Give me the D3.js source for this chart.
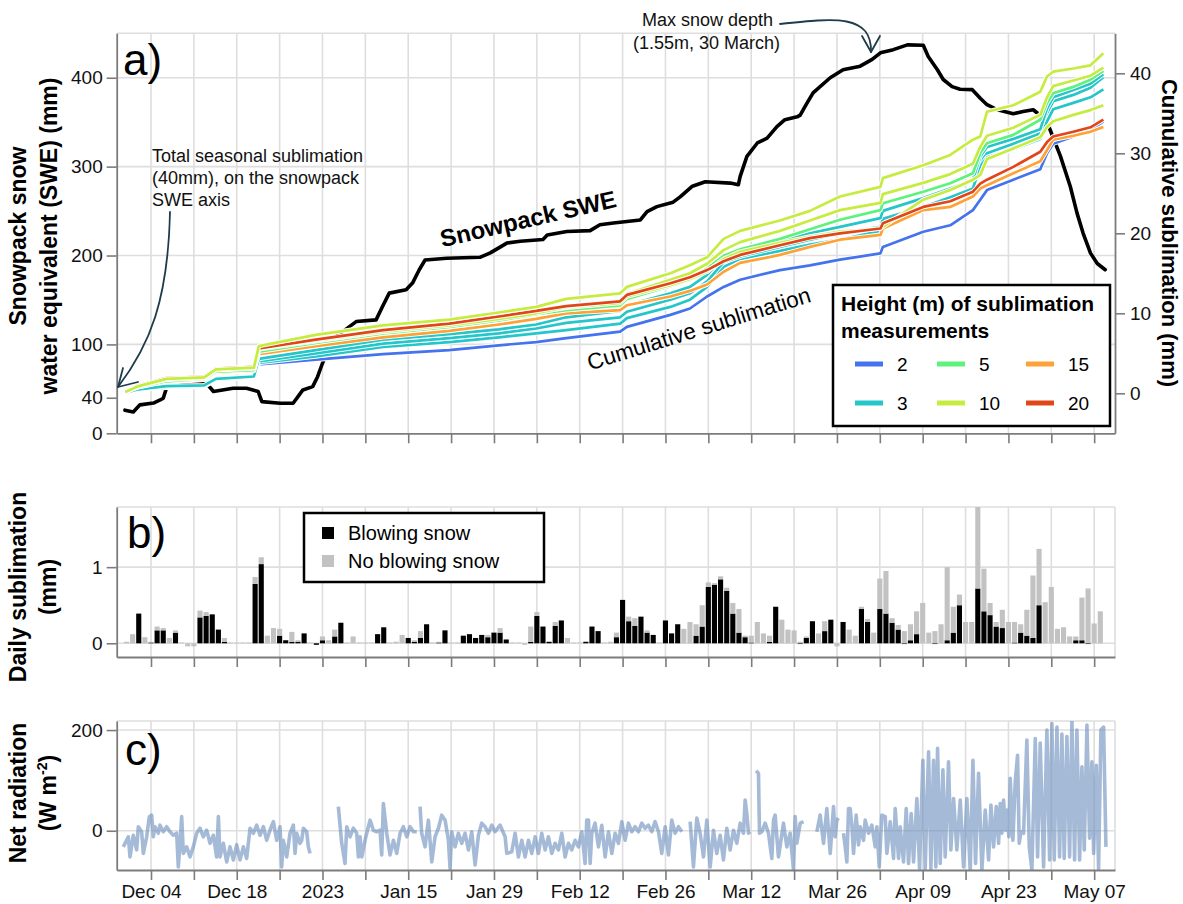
<!DOCTYPE html>
<html>
<head>
<meta charset="utf-8">
<title>Snowpack SWE, sublimation and net radiation</title>
<script src="https://cdn.jsdelivr.net/npm/d3@7"></script>
<style>
  html, body { margin: 0; padding: 0; background: #fff; }
  svg { display: block; font-family: "Liberation Sans", Arial, Helvetica, sans-serif; }
</style>
</head>
<body>
<svg id="chart" width="1183" height="904"></svg>
<script>
// ---------------------------------------------------------------------------
// Data. Time is expressed as days since 4 Dec 2022 00:00 UTC.
// ---------------------------------------------------------------------------
const seasonStart = Date.UTC(2022, 11, 4);

// Snowpack snow water equivalent (mm): [day, SWE]
const swe = [
  [-4.25, 26], [-2.9, 24], [-1.8, 32], [0.4, 34], [1.5, 37.5], [2.0, 39.5], [2.6, 52.5],
  [9.1, 56], [10.2, 47], [13.4, 50.7], [15.6, 50.7], [17.5, 47], [18.1, 35.6], [21.1, 33.8],
  [23.2, 33.8], [24.0, 41.2], [24.8, 48.8], [26.4, 52.5], [27.2, 63.7], [28.0, 78.8],
  [29.1, 97.5], [30.2, 108.8], [32.4, 120], [33.5, 125.7], [36.75, 127.6], [37.8, 142.6],
  [38.9, 157.7], [41.65, 161.4], [42.7, 169], [43.8, 184], [44.75, 195], [48.3, 197],
  [53.7, 198], [55.4, 203], [58.1, 214], [60.3, 216], [64.0, 218], [64.7, 223], [67.9, 227],
  [71.7, 228], [73.3, 234.6], [75.5, 236.5], [79.9, 240], [81.0, 249.5], [82.6, 255],
  [85.25, 260], [86.4, 266], [88.4, 278], [90.5, 283], [94.6, 281.5], [95.9, 279.6],
  [96.2, 289], [97.3, 311.5], [99.0, 326.6], [100.6, 332], [102.2, 345], [103.5, 352.8],
  [105.5, 356], [106.0, 358], [106.8, 367.8], [108.1, 383], [110.9, 400], [113.0, 409],
  [115.8, 413], [117.75, 420.6], [119.1, 428], [121.2, 431.6], [123.5, 437], [126.1, 436.5],
  [126.9, 424], [128.4, 409], [129.35, 398], [130.8, 390], [132.1, 387], [134.1, 386.6],
  [135.4, 377], [136.5, 369.7], [138.2, 364], [140.8, 359.6], [142.4, 362], [144.05, 364],
  [145.7, 354.7], [146.8, 341.5], [148.5, 311.5], [150.1, 277.7], [151.2, 247.7],
  [152.2, 225], [153.4, 202.7], [154.5, 191], [155.8, 184]
];

// Cumulative sublimation (mm) for each sensor, sampled on shared days
const subDays = [-4.1, -2.0, 2.5, 8.7, 10.6, 16.8, 17.6, 26.9, 37.9, 48.7, 56.8, 62.9, 67.8,
  76.6, 77.7, 84.8, 88.0, 90.8, 93.5, 96.2, 102.7, 107.6, 112.5, 119.1, 119.5, 126.1, 130.5,
  134.2, 135.4, 136.5, 140.8, 145.2, 146.3, 147.3, 150.6, 153.4, 155.5];

const sub2m = [0.1, 0.5, 0.75, 0.85, 1.7, 2.0, 3.6, 4.2, 4.9, 5.4, 6.0, 6.4, 6.9, 7.7, 8.3,
  9.8, 10.6, 12.1, 13.3, 14.2, 15.4, 16.0, 16.7, 17.5, 18.3, 20.2, 21.0, 22.9, 24.2, 25.4,
  26.7, 28.0, 30.0, 31.2, 32.1, 32.9, 34.0];
const sub3mA = [0.1, 0.5, 0.9, 1.0, 1.8, 2.1, 4.3, 5.4, 6.7, 7.4, 8.0, 8.6, 9.5, 10.3, 11.0,
  12.5, 13.3, 14.8, 17.0, 17.9, 19.0, 20.0, 20.8, 21.9, 22.8, 24.4, 25.6, 26.7, 29.6, 30.8,
  31.8, 33.0, 35.6, 37.0, 37.9, 38.7, 39.9];
const sub3mB = [0.1, 0.5, 0.8, 0.95, 1.75, 2.05, 4.0, 5.0, 6.2, 6.9, 7.5, 8.1, 8.8, 9.5, 10.2,
  11.7, 12.5, 14.0, 16.4, 17.1, 18.3, 19.2, 20.0, 20.8, 21.8, 23.3, 24.5, 25.6, 28.4, 29.5,
  30.5, 31.8, 34.0, 35.5, 36.3, 37.0, 38.0];
const sub3mC = [0.1, 0.5, 0.7, 0.9, 1.7, 2.0, 3.8, 4.6, 5.8, 6.4, 7.0, 7.5, 7.9, 8.7, 9.4,
  10.8, 11.7, 13.3, 15.8, 16.8, 17.8, 18.6, 19.2, 20.3, 21.2, 23.0, 24.2, 25.4, 28.8, 30.0,
  31.2, 32.5, 35.0, 36.5, 37.3, 38.2, 39.5];
const sub5m = [0.2, 0.8, 1.5, 1.8, 2.7, 2.9, 5.2, 6.3, 7.5, 8.3, 9.1, 9.9, 10.4, 11.0, 11.8,
  13.4, 14.2, 15.6, 17.2, 18.0, 19.3, 20.5, 21.7, 22.9, 23.75, 25.2, 26.25, 27.5, 30.0, 31.25,
  32.3, 34.2, 36.3, 37.5, 38.3, 39.2, 40.3];
const sub10mA = [0.2, 0.9, 1.8, 2.0, 3.0, 3.2, 5.9, 7.3, 8.5, 9.2, 10.1, 10.8, 11.8, 12.5, 13.3,
  15.0, 16.0, 17.0, 19.3, 20.3, 21.6, 22.8, 24.6, 25.8, 26.9, 28.5, 29.8, 31.7, 32.1, 35.2,
  36.0, 37.7, 39.6, 40.2, 40.6, 41.0, 42.5];
const sub10mB = [0.2, 0.9, 1.7, 1.9, 2.9, 3.1, 5.6, 6.6, 7.7, 8.5, 9.3, 10.0, 10.8, 11.6, 12.4,
  14.2, 15.0, 16.2, 17.9, 18.9, 20.3, 21.6, 22.9, 23.8, 24.9, 26.3, 27.4, 28.7, 30.8, 32.2,
  33.2, 34.8, 37.0, 38.4, 39.1, 39.7, 40.7];
const sub10mC = [0.2, 0.9, 1.8, 2.0, 3.0, 3.2, 5.5, 6.5, 7.7, 8.5, 9.4, 10.1, 10.7, 11.3, 12.1,
  13.5, 14.3, 15.2, 16.8, 17.7, 18.8, 19.6, 20.2, 20.6, 20.8, 24.2, 25.4, 26.7, 27.3, 29.3,
  30.6, 32.0, 33.3, 34.0, 34.8, 35.4, 36.0];
const sub15m = [0.2, 0.8, 1.5, 1.7, 2.6, 2.8, 4.9, 5.9, 7.0, 7.8, 8.6, 9.3, 10.0, 10.4, 11.0,
  12.1, 12.8, 13.6, 15.2, 16.3, 17.3, 18.3, 19.2, 19.8, 20.6, 22.9, 23.3, 24.6, 25.6, 26.0,
  27.5, 29.0, 30.4, 31.7, 32.2, 32.7, 33.3];
const sub20m = [0.2, 1.0, 1.9, 2.1, 3.1, 3.3, 5.6, 6.7, 7.9, 8.7, 9.6, 10.3, 10.9, 11.5, 12.3,
  13.75, 14.5, 15.4, 16.5, 17.3, 18.5, 19.4, 20.0, 20.6, 21.25, 23.3, 24.0, 25.2, 26.2, 26.7,
  28.3, 30.2, 31.4, 32.1, 32.7, 33.25, 34.2];

// Daily sublimation (mm), one value per day starting at day -4 (30 Nov 2022)
const dailyFirstDay = -4;
const dailyBlowing = [
  0, 0, 0.39, 0, 0.01, 0.17, 0.17, 0, 0.14, 0,
  0, 0, 0.34, 0.36, 0.38, 0.18, 0.02, 0, 0, 0,
  0, 0.78, 1.04, 0, 0, 0.1, 0.04, 0.02, 0.02, 0.13,
  0, -0.02, 0.04, 0, 0.09, 0.27, 0, 0, 0, 0,
  0, 0.12, 0.21, 0, 0, 0, 0.07, 0.02, 0.07, 0.25,
  0, 0.01, 0.17, 0, 0, 0.1, 0.12, 0.07, 0.11, 0.08,
  0.14, 0.14, 0.05, 0, 0, 0, 0.02, 0.36, 0.22, 0.02,
  0.23, 0.30, 0, 0, 0, 0.02, 0.22, 0.16, 0, 0,
  0.08, 0.57, 0.29, 0.23, 0.35, 0.14, 0.11, 0, 0.30, 0.13,
  0.25, 0, 0, 0.1, 0.22, 0.74, 0.77, 0.84, 0.69, 0.39,
  0.14, 0.08, 0.01, 0, 0, 0.02, 0.48, 0, 0, 0,
  -0.01, 0.07, 0.29, 0, 0.16, 0.31, 0, 0.28, 0, 0,
  0.45, 0.28, 0, 0.45, 0.39, 0.27, 0.18, -0.01, 0.04, 0.12,
  0, 0, -0.01, 0, 0.04, 0.14, 0.5, 0, 0, 0.72,
  0.42, 0.37, 0.22, 0.2, 0, 0.01, 0.14, 0.1, 0.07, 0.5,
  0, 0, 0, 0, 0, 0.04, 0.04, -0.01, 0, 0
];
const dailyNoBlowing = [
  0.02, 0.12, 0, 0.08, 0.01, 0.05, 0.03, 0.07, 0.03, 0.01,
  -0.04, -0.04, 0.09, 0.05, 0, 0, 0.05, 0.01, 0.01, 0.01,
  0.01, 0.09, 0.09, 0.1, 0.2, 0.09, 0, 0.13, 0.02, 0,
  0.01, 0, 0.05, 0.04, 0.09, 0, 0.01, 0.09, 0.01, 0.01,
  0.01, 0, 0, 0.01, 0.02, 0.11, 0, 0.02, 0.09, 0,
  0.01, 0.01, 0, 0.01, 0.01, 0, 0, 0, 0, 0.03,
  0, 0.06, 0, 0.01, 0.01, -0.02, 0.2, 0.05, 0, 0,
  0.05, 0, 0.07, 0.01, 0.01, 0, 0, 0, 0.01, 0.02,
  0.06, 0, 0.06, 0.10, 0, 0.03, 0, 0.01, 0, 0,
  0, 0.19, 0.28, 0.15, 0.28, 0.06, 0.02, 0.04, 0.04, 0.14,
  0.31, 0.02, 0.09, 0.28, 0.13, 0.08, 0, 0.31, 0.18, 0.17,
  0.02, 0.02, 0, 0.13, 0.13, 0, -0.04, 0, 0.18, 0.1,
  0.03, 0.04, 0.14, 0.40, 0.56, 0.06, 0.06, 0.16, 0.21, 0.30,
  0.53, 0.14, 0.16, 0.25, 0.96, 0.34, 0.14, 0.28, 0.28, 1.13,
  0.56, 0.16, 0.06, 0.24, 0.28, 0.27, 0.11, 0.34, 0.82, 0.74,
  0.54, 0.74, 0.19, 0.21, 0.09, 0.05, 0.56, 0.72, 0.26, 0.42
];

// Net radiation (W m-2): [day, value]; null marks a gap in the record
const netRadiation = [
  [-4.52, -32], [-3.70, -12], [-3.43, -52], [-2.89, -9], [-2.34, -38], [-2.07, 8], [-1.53, -2],
  [-1.25, -45], [-0.71, -12], [-0.27, 28], [0.11, 31], [0.38, -12], [0.65, 8], [1.20, -5],
  [1.47, 11], [2.01, -2], [2.56, 8], [3.10, -2], [3.65, -9], [4.19, -5], [4.46, -72],
  [4.74, -25], [5.01, 28], [5.28, -45], [5.83, -32], [6.37, -52], [6.91, -32], [7.46, -5],
  [8.00, 5], [8.55, -12], [9.09, 1], [9.64, -25], [10.18, -9], [10.72, -52], [11.00, 28],
  [11.27, -52], [11.81, -25], [12.36, -62], [12.90, -32], [13.45, -58], [13.99, -28],
  [14.54, -58], [15.08, -32], [15.62, -55], [16.17, 5], [16.71, -5], [17.26, 11], [17.80, -9],
  [18.35, 8], [18.89, -19], [19.43, 1], [19.98, 18], [20.52, -19], [21.07, 8], [21.34, -72],
  [21.61, -19], [22.16, -52], [22.70, -5], [23.24, 11], [23.52, -45], [23.79, -5], [24.33, -25],
  [24.61, -19], [24.88, 5], [25.42, -2], [25.69, -32], [25.97, -45],
  null,
  [30.59, 48], [31.14, -25], [31.68, -65], [31.96, 8], [32.50, -12], [33.04, 5], [33.59, -5],
  [33.86, -52], [34.13, -12], [34.41, -52], [34.95, -19], [35.22, -5], [35.77, 21], [36.31, 1],
  [36.86, -2], [37.40, 1], [37.67, -48], [37.94, 54], [38.49, -5], [39.03, -48], [39.58, -19],
  [40.12, -45], [40.67, -5], [41.21, 8], [41.76, -12], [42.30, 8], [42.84, -2], [43.39, -2],
  null,
  [43.93, 48], [44.20, -5], [44.75, -32], [45.29, 21], [45.84, -62], [46.38, -12], [46.93, 5],
  [47.47, 31], [48.02, 21], [48.56, -19], [48.83, -75], [49.10, -2], [49.65, -32], [50.19, -5],
  [50.74, -25], [51.28, -5], [51.83, -38], [52.37, -2], [52.92, -68], [53.46, -9], [54.00, 15],
  [54.55, 8], [55.09, -5], [55.64, 11], [56.18, -2], [57.00, 11], [57.82, -12], [58.09, -45],
  [58.90, -42], [59.45, -5], [59.99, -52], [60.54, -19], [61.08, -52], [61.63, -19],
  [62.17, -45], [62.72, -12], [63.26, -45], [63.80, -5], [64.35, -38], [64.89, -12],
  [65.44, -45], [65.98, -25], [66.53, -38], [67.07, -5], [67.62, -52], [68.16, -25],
  [68.70, -38], [69.25, -19], [69.79, -32], [70.34, -2], [70.88, -65], [71.15, 21], [71.43, 21],
  [71.70, -65], [71.97, -5], [72.51, 15], [73.06, -32], [73.60, 11], [74.15, -52], [74.69, -2],
  [75.24, -45], [75.78, -5], [76.33, -25], [76.87, 18], [77.41, -19], [77.96, 15], [78.50, -2],
  [79.05, 8], [79.59, -2], [80.14, 15], [80.68, 5], [81.22, 11], [81.77, -2], [82.31, 18],
  [82.86, -2], [83.40, -45], [83.95, 8], [84.49, -48], [85.03, 21], [85.58, -5], [86.12, 8],
  [86.67, -2],
  null,
  [88.03, 18], [88.57, -72], [89.12, 25], [89.66, -5], [90.21, -52], [90.75, 21], [91.30, -72],
  [91.84, 1], [92.38, -45], [92.93, -9], [93.47, -58], [94.02, 5], [94.56, -38], [95.11, 1],
  [95.65, -25], [96.20, 15], [96.74, -5], [97.01, 61], [97.28, 34], [97.56, -5], [97.83, -2],
  null,
  [98.81, 119], [99.19, 114], [99.35, -5], [99.73, -2], [100.28, 15], [100.82, -5],
  [101.37, -55], [101.64, 21], [101.91, 31], [102.45, -52], [103.27, 15], [103.82, -32],
  [104.36, -5], [104.91, -78], [105.18, 28], [105.45, -25], [106.00, 15], [106.54, 18],
  null,
  [108.72, -2], [109.26, 31], [109.81, -25], [110.35, 44], [110.90, -45], [111.44, 48],
  [111.71, -12], [111.98, 21], [112.26, 25],
  null,
  [113.07, -5], [113.35, -32], [113.62, -62], [113.89, 44], [114.16, 44], [114.43, 11],
  [114.71, -45], [115.14, 31], [115.52, -28], [115.80, 8], [116.34, -19], [116.61, 21],
  [117.16, -5], [117.70, 11], [118.25, -32], [118.52, 8], [118.90, -72], [119.33, 31],
  [119.88, 28], [120.15, -45], [120.70, 18], [121.24, -55], [121.51, 44], [122.06, -55],
  [122.33, 8], [122.87, -62], [123.31, 44], [123.69, -65], [124.12, 34], [124.51, -62],
  [125.05, 64], [125.49, -75], [126.03, 140], [126.41, -75], [126.96, 157], [127.34, -75],
  [127.77, 140], [128.15, -72], [128.43, 164], [128.86, -65], [129.30, 121], [129.68, -52],
  [130.22, 137], [130.60, -38], [131.04, 64], [131.58, -38], [132.13, 61], [132.67, -72],
  [133.22, 64], [133.76, -81], [134.20, 140], [134.63, -65], [135.12, 114], [135.67, -78],
  [136.21, 41], [136.76, -58], [137.14, 51], [137.57, -32], [138.01, 48], [138.39, -25],
  [138.66, 54], [138.93, -5], [139.20, 61], [139.53, 1], [139.75, 41], [140.08, -12],
  [140.29, 104], [140.73, -19], [141.11, 97], [141.49, 150], [141.76, -25], [142.04, -2],
  [142.47, -5], [143.01, 180], [143.40, -32], [143.83, -78], [144.38, 183], [144.76, -52],
  [145.19, 174], [145.74, -72], [146.28, 200], [146.72, -58], [147.10, 213], [147.48, -58],
  [147.92, 206], [148.35, -52], [148.73, 192], [149.11, -55], [149.55, 187], [149.99, -52],
  [150.37, 220], [150.80, -58], [151.18, 200], [151.62, -58], [152.00, 127], [152.38, -38],
  [152.82, 210], [153.25, -15], [153.63, 137], [153.91, -45], [154.34, 130], [154.72, -75],
  [155.10, 200], [155.54, 206], [155.92, -32]
];

// Axis ticks
const sweTicks = [0, 40, 100, 200, 300, 400];
const sweGrid = [100, 200, 300, 400];
const subTicks = [0, 10, 20, 30, 40];
const dailyTicks = [0, 1];
const radTicks = [0, 200];

// Sensor heights (m) and their colours
const heights = [2, 3, 5, 10, 15, 20];
const heightColors = ["#4573ee", "#25c6c9", "#5ef27c", "#c6ec40", "#fea136", "#e0461a"];

// Drawing order of the sublimation records (bottom to top)
const sublimationSeries = [
  { height: 2, values: sub2m },
  { height: 3, values: sub3mC },
  { height: 3, values: sub3mB },
  { height: 3, values: sub3mA },
  { height: 15, values: sub15m },
  { height: 5, values: sub5m },
  { height: 10, values: sub10mC },
  { height: 10, values: sub10mB },
  { height: 20, values: sub20m },
  { height: 10, values: sub10mA }
];

// ---------------------------------------------------------------------------
// Layout and scales
// ---------------------------------------------------------------------------
const svg = d3.select("#chart");
const FONT = '"Liberation Sans", Arial, Helvetica, sans-serif';
const axisColor = "#7c7c7c";
const gridColor = "#dedede";
const colorOf = h => heightColors[heights.indexOf(h)];
const toDate = d => new Date(seasonStart + d * 864e5);

const left = 116.7, right = 1115;
const panelA = { top: 33.3, bottom: 433.3 };
const panelB = { top: 507, bottom: 657 };
const panelC = { top: 721, bottom: 870 };

const x = d3.scaleUtc().domain([toDate(-5.6), toDate(157.4)]).range([left, right]);
const ySwe = d3.scaleLinear().domain([0, 450]).range([panelA.bottom, panelA.top]);
const ySub = d3.scaleLinear().domain([-5, 45]).range([panelA.bottom, panelA.top]);
const yDaily = d3.scaleLinear().domain([-0.18, 1.79]).range([panelB.bottom, panelB.top]);
const yRad = d3.scaleLinear().domain([-78, 218]).range([panelC.bottom, panelC.top]);

const weeks = d3.utcSunday.range(x.domain()[0], x.domain()[1]);
const fmtDay = d3.utcFormat("%b %d");
const dateLabel = (d, i) => (i % 2 !== 0) ? "" :
  (d.getUTCMonth() === 0 && d.getUTCDate() === 1 ? String(d.getUTCFullYear()) : fmtDay(d));

// clip rectangles for each panel
const defs = svg.append("defs");
[["clipA", panelA], ["clipB", panelB], ["clipC", panelC]].forEach(([id, p]) => {
  defs.append("clipPath").attr("id", id)
    .append("rect").attr("x", left).attr("y", p.top)
    .attr("width", right - left).attr("height", p.bottom - p.top);
});

// grid: weekly verticals, horizontals at given values, light frame on top/right
function drawGrid(p, yScale, hValues, rightFrame) {
  const g = svg.append("g").attr("stroke", gridColor).attr("stroke-width", 1.6).attr("fill", "none");
  g.selectAll("line.v").data(weeks).join("line")
    .attr("x1", d => x(d)).attr("x2", d => x(d))
    .attr("y1", p.top).attr("y2", p.bottom);
  g.selectAll("line.h").data(hValues).join("line")
    .attr("x1", left).attr("x2", right)
    .attr("y1", d => yScale(d)).attr("y2", d => yScale(d));
  g.append("line").attr("x1", left).attr("x2", right).attr("y1", p.top).attr("y2", p.top);
  if (rightFrame) g.append("line").attr("x1", right).attr("x2", right).attr("y1", p.top).attr("y2", p.bottom);
}

function styleAxis(g) {
  g.attr("font-family", FONT).attr("font-size", 19);
  g.select(".domain").attr("stroke", axisColor).attr("stroke-width", 1.8);
  g.selectAll(".tick line").attr("stroke", axisColor).attr("stroke-width", 1.6);
  g.selectAll(".tick text").attr("fill", "#111");
}

function drawAxes(p, yScale, ticks, showDates) {
  svg.append("g").attr("transform", `translate(0,${p.bottom})`)
    .call(d3.axisBottom(x).tickValues(weeks).tickSize(10).tickSizeOuter(0).tickPadding(5)
      .tickFormat(showDates ? dateLabel : () => ""))
    .call(styleAxis);
  svg.append("g").attr("transform", `translate(${left},0)`)
    .call(d3.axisLeft(yScale).tickValues(ticks).tickSize(10).tickSizeOuter(0).tickPadding(4)
      .tickFormat(d3.format("d")))
    .call(styleAxis);
}

function panelLabel(text, px, py) {
  svg.append("text").attr("x", px).attr("y", py).attr("font-size", 44)
    .attr("font-family", FONT).attr("fill", "#000").text(text);
}

// two-line bold titles, rotated to read bottom to top
function axisTitle(lines, cx, cy, size) {
  const t = svg.append("g").attr("transform", `translate(${cx},${cy}) rotate(-90)`);
  lines.forEach(l => {
    const txt = t.append("text").attr("x", 0).attr("y", l.dy).attr("text-anchor", "middle")
      .attr("font-size", size).attr("font-weight", "bold").attr("font-family", FONT).attr("fill", "#000");
    l.parts.forEach(pt => {
      const s = txt.append("tspan").text(pt.text);
      if (pt.sup) s.attr("font-size", size * 0.62).attr("dy", -size * 0.38);
      if (pt.after) s.attr("dy", size * 0.38);
    });
  });
}

// ---------------------------------------------------------------------------
// Panel a: snowpack SWE and cumulative sublimation
// ---------------------------------------------------------------------------
drawGrid(panelA, ySwe, sweGrid, false);

const plotA = svg.append("g").attr("clip-path", "url(#clipA)");

plotA.append("path").datum(swe)
  .attr("fill", "none").attr("stroke", "#000").attr("stroke-width", 3.6)
  .attr("stroke-linejoin", "round").attr("stroke-linecap", "round")
  .attr("d", d3.line().x(d => x(toDate(d[0]))).y(d => ySwe(d[1])));

const subLine = d3.line().x((v, i) => x(toDate(subDays[i]))).y(v => ySub(v));
sublimationSeries.forEach(s => {
  plotA.append("path").datum(s.values).attr("fill", "none")
    .attr("stroke", "#fff").attr("stroke-width", 4.6).attr("stroke-linejoin", "round")
    .attr("d", subLine);
  plotA.append("path").datum(s.values).attr("fill", "none")
    .attr("stroke", colorOf(s.height)).attr("stroke-width", 2.7).attr("stroke-linejoin", "round")
    .attr("d", subLine);
});

drawAxes(panelA, ySwe, sweTicks, false);
svg.append("g").attr("transform", `translate(${right},0)`)
  .call(d3.axisRight(ySub).tickValues(subTicks).tickSize(10).tickSizeOuter(0).tickPadding(5))
  .call(styleAxis);

panelLabel("a)", 123, 75);

// inline labels
svg.append("text").attr("transform", "translate(530,227) rotate(-13)")
  .attr("text-anchor", "middle").attr("font-size", 24).attr("font-weight", "bold")
  .attr("font-family", FONT).text("Snowpack SWE");
svg.append("text").attr("transform", "translate(701,336) rotate(-17.2)")
  .attr("text-anchor", "middle").attr("font-size", 22.5)
  .attr("font-family", FONT).text("Cumulative sublimation");

// annotations with arrows
const annoColor = "#1d3b4b";
const anno = svg.append("g").attr("font-family", FONT).attr("font-size", 18).attr("fill", "#111");
["Total seasonal sublimation", "(40mm), on the snowpack", "SWE axis"].forEach((t, i) => {
  anno.append("text").attr("x", 152).attr("y", 162 + i * 22).text(t);
});
anno.append("text").attr("x", 642).attr("y", 26).text("Max snow depth");
anno.append("text").attr("x", 633).attr("y", 49).text("(1.55m, 30 March)");

const arrows = svg.append("g").attr("fill", "none").attr("stroke", annoColor)
  .attr("stroke-width", 1.8).attr("stroke-linecap", "round").attr("stroke-linejoin", "round");
arrows.append("path").attr("d", "M170,212 C168,300 150,345 118,387");
arrows.append("path").attr("d", "M123,368 L118,387 L138,382");
arrows.append("path").attr("d", "M780,24 C835,18 872,14 871,52");
arrows.append("path").attr("d", "M862,36 L871,52 L880,36");

// legend for sensor heights
const legA = svg.append("g").attr("font-family", FONT);
legA.append("rect").attr("x", 833).attr("y", 285).attr("width", 277).attr("height", 141)
  .attr("fill", "#fff").attr("stroke", "#000").attr("stroke-width", 2.5);
legA.append("text").attr("x", 841).attr("y", 311).attr("font-size", 21).attr("font-weight", "bold")
  .text("Height (m) of sublimation");
legA.append("text").attr("x", 841).attr("y", 338).attr("font-size", 21).attr("font-weight", "bold")
  .text("measurements");
const legCols = [855, 937, 1026];
const legRows = [364, 403];
heights.forEach((h, i) => {
  const cx = legCols[Math.floor(i / 2)], cy = legRows[i % 2];
  legA.append("line").attr("x1", cx).attr("x2", cx + 28).attr("y1", cy).attr("y2", cy)
    .attr("stroke", colorOf(h)).attr("stroke-width", 5);
  legA.append("text").attr("x", cx + 42).attr("y", cy + 7).attr("font-size", 19).text(h);
});

axisTitle([
  { dy: -5, parts: [{ text: "Snowpack snow" }] },
  { dy: 26, parts: [{ text: "water equivalent (SWE) (mm)" }] }
], 31, 236, 23);
// right axis title, reading top to bottom
svg.append("text").attr("transform", "translate(1162,233) rotate(90)")
  .attr("text-anchor", "middle").attr("font-size", 22).attr("font-weight", "bold")
  .attr("font-family", FONT).text("Cumulative sublimation (mm)");

// ---------------------------------------------------------------------------
// Panel b: daily sublimation, stacked by blowing-snow condition
// ---------------------------------------------------------------------------
drawGrid(panelB, yDaily, dailyTicks, true);

const barW = (x(toDate(1)) - x(toDate(0))) - 1;
const dailyRows = dailyBlowing.map((b, i) => ({ day: dailyFirstDay + i, b, g: dailyNoBlowing[i] }));
const segs = [];
dailyRows.forEach(r => {
  if (r.b !== 0) segs.push({ day: r.day, y0: 0, y1: r.b, fill: "#000" });
  if (r.g !== 0) {
    const base = r.g > 0 ? Math.max(r.b, 0) : Math.min(r.b, 0);
    segs.push({ day: r.day, y0: base, y1: base + r.g, fill: "#c2c2c2" });
  }
});
svg.append("g").attr("clip-path", "url(#clipB)")
  .selectAll("rect").data(segs).join("rect")
  .attr("x", d => x(toDate(d.day)) - barW / 2)
  .attr("width", barW)
  .attr("y", d => yDaily(Math.max(d.y0, d.y1)))
  .attr("height", d => Math.abs(yDaily(d.y0) - yDaily(d.y1)))
  .attr("fill", d => d.fill);

drawAxes(panelB, yDaily, dailyTicks, false);
panelLabel("b)", 127, 548);

const legB = svg.append("g").attr("font-family", FONT).attr("font-size", 20);
legB.append("rect").attr("x", 304).attr("y", 513).attr("width", 240).attr("height", 69)
  .attr("fill", "#fff").attr("stroke", "#000").attr("stroke-width", 2.5);
[["Blowing snow", "#000", 540], ["No blowing snow", "#c2c2c2", 568]].forEach(([t, c, by]) => {
  legB.append("rect").attr("x", 322).attr("y", by - 13).attr("width", 12).attr("height", 12).attr("fill", c);
  legB.append("text").attr("x", 348).attr("y", by).text(t);
});

axisTitle([
  { dy: -5, parts: [{ text: "Daily sublimation" }] },
  { dy: 25, parts: [{ text: "(mm)" }] }
], 31, 587, 23);

// ---------------------------------------------------------------------------
// Panel c: net radiation
// ---------------------------------------------------------------------------
drawGrid(panelC, yRad, radTicks, true);

svg.append("g").attr("clip-path", "url(#clipC)")
  .append("path").datum(netRadiation)
  .attr("fill", "none").attr("stroke", "#6d8fbd").attr("stroke-opacity", 0.62)
  .attr("stroke-width", 3.6).attr("stroke-linejoin", "round")
  .attr("d", d3.line().defined(d => d !== null).x(d => x(toDate(d[0]))).y(d => yRad(d[1])));

drawAxes(panelC, yRad, radTicks, true);
panelLabel("c)", 125, 765);

axisTitle([
  { dy: -5, parts: [{ text: "Net radiation" }] },
  { dy: 25, parts: [{ text: "(W m" }, { text: "-2", sup: true }, { text: ")", after: true }] }
], 31, 793, 23);
</script>
</body>
</html>
